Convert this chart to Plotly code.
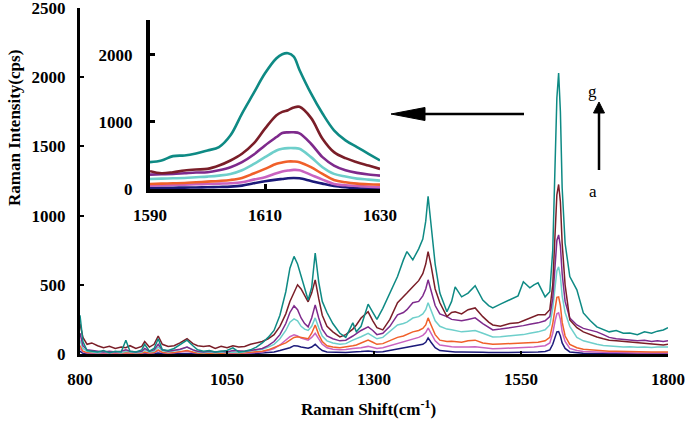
import plotly.graph_objects as go

# ---------------- data ----------------
shift = [800, 805, 812, 820, 830, 840, 850, 860, 870, 878,
         885, 895, 905, 910, 918, 926, 933, 940, 950, 960,
         970, 982, 992, 1000, 1010, 1020, 1030, 1040, 1050, 1060,
         1070, 1080, 1090, 1100, 1110, 1120, 1130, 1140, 1150, 1157,
         1164, 1170, 1176, 1182, 1188, 1194, 1200, 1206, 1212, 1220,
         1230, 1242, 1252, 1264, 1270, 1278, 1290, 1298, 1305, 1315,
         1327, 1340, 1350, 1356, 1366, 1376, 1383, 1388, 1392, 1397,
         1404, 1412, 1424, 1432, 1438, 1449, 1460, 1472, 1485, 1495,
         1502, 1515, 1531, 1545, 1554, 1565, 1572, 1579, 1591, 1599,
         1604, 1608, 1611, 1614, 1617, 1620, 1625, 1633, 1645, 1656,
         1668, 1679, 1690, 1700, 1712, 1724, 1735, 1748, 1760, 1772,
         1782, 1792, 1800]

spec_g = [280, 90, 25, 20, 15, 25, 10, 20, 15, 100,
          20, 15, 30, 70, 20, 40, 110, 30, 25, 40,
          70, 100, 60, 30, 20, 25, 15, 20, 25, 45,
          15, 20, 30, 50, 80, 120, 170, 280, 450, 620,
          705, 650, 560, 470, 390, 480, 730, 520, 380, 300,
          220, 150, 120, 225, 160, 200, 360, 300, 250, 330,
          440, 560, 680, 740, 680, 760, 830, 960, 1140, 950,
          650, 440, 305, 380, 485, 413, 440, 493, 390, 350,
          333, 360, 390, 420, 522, 478, 500, 514, 413, 450,
          750, 1300, 1850, 2030, 1750, 1200, 800, 560, 464, 297,
          240, 196, 180, 160, 170, 150, 152, 140, 160, 150,
          165, 174, 190]

spec_f = [220, 120, 70, 80, 60, 45, 55, 40, 50, 45,
          60, 40, 55, 90, 50, 70, 130, 70, 55, 60,
          80, 110, 75, 60, 55, 60, 40, 55, 45, 60,
          50, 55, 70, 80, 90, 110, 140, 200, 290, 380,
          440, 500, 470, 420, 377, 440, 536, 400, 280, 200,
          160, 123, 140, 180, 210, 260, 305, 240, 190, 174,
          250, 370, 410, 440, 486, 530, 580, 650, 740, 640,
          470, 370, 270, 300, 305, 290, 320, 333, 270, 230,
          210, 200, 220, 225, 240, 260, 270, 283, 283, 320,
          500, 850, 1150, 1225, 1100, 800, 500, 246, 190, 160,
          140, 123, 110, 100, 95, 90, 87, 80, 75, 70,
          68, 65, 70]

spec_e = [150, 60, 30, 25, 20, 15, 20, 15, 20, 30,
          20, 15, 20, 40, 20, 30, 70, 30, 20, 25,
          35, 50, 30, 20, 15, 20, 15, 20, 15, 25,
          20, 20, 25, 30, 40, 60, 90, 140, 220, 300,
          348, 320, 260, 220, 196, 260, 355, 260, 180, 130,
          110, 95, 100, 130, 150, 170, 196, 170, 140, 150,
          200, 283, 300, 320, 370, 380, 420, 470, 536, 460,
          350, 290, 270, 250, 246, 240, 250, 261, 220, 190,
          174, 180, 190, 196, 205, 215, 220, 225, 240, 270,
          400, 620, 820, 860, 780, 580, 380, 260, 210, 185,
          170, 160, 140, 120, 110, 105, 101, 95, 100, 90,
          95, 90, 95]

spec_d = [100, 40, 20, 15, 10, 15, 10, 15, 10, 20,
          15, 10, 15, 30, 15, 20, 50, 25, 15, 20,
          30, 50, 30, 15, 10, 15, 10, 15, 10, 15,
          10, 15, 20, 25, 35, 50, 70, 110, 170, 230,
          254, 240, 200, 180, 170, 200, 261, 190, 130, 95,
          80, 70, 75, 100, 110, 125, 150, 130, 110, 120,
          160, 210, 220, 230, 260, 270, 290, 320, 370, 320,
          240, 200, 180, 175, 170, 160, 165, 170, 150, 135,
          123, 125, 130, 135, 140, 150, 155, 160, 175, 210,
          330, 480, 600, 630, 560, 420, 300, 200, 120, 95,
          80, 70, 62, 58, 55, 50, 52, 48, 50, 47,
          50, 48, 50]

spec_c = [60, 20, 10, 10, 5, 10, 5, 10, 5, 10,
          8, 5, 8, 15, 8, 10, 30, 12, 8, 10,
          15, 25, 15, 8, 5, 8, 5, 8, 5, 10,
          5, 8, 10, 15, 20, 30, 45, 60, 80, 100,
          120, 125, 120, 115, 110, 150, 210, 140, 90, 60,
          50, 45, 50, 60, 65, 80, 100, 85, 70, 75,
          95, 120, 130, 140, 160, 170, 185, 210, 261, 210,
          140, 100, 90, 92, 90, 85, 95, 100, 80, 72,
          70, 72, 75, 78, 80, 80, 82, 85, 95, 120,
          220, 340, 410, 413, 350, 230, 130, 70, 45, 35,
          30, 25, 22, 20, 20, 18, 20, 16, 15, 15,
          14, 15, 15]

spec_b = [40, 15, 8, 5, 5, 5, 3, 5, 3, 8,
          5, 3, 5, 10, 5, 8, 25, 10, 5, 8,
          12, 20, 10, 5, 3, 5, 3, 5, 3, 5,
          3, 5, 8, 10, 15, 25, 40, 65, 100, 125,
          138, 130, 115, 105, 100, 120, 150, 110, 70, 45,
          35, 30, 32, 40, 42, 45, 55, 48, 40, 45,
          60, 80, 90, 95, 110, 120, 135, 155, 188, 150,
          95, 65, 55, 52, 50, 48, 50, 52, 45, 40,
          38, 40, 42, 45, 48, 50, 50, 55, 60, 80,
          150, 240, 290, 297, 250, 160, 90, 40, 25, 18,
          15, 12, 10, 10, 10, 8, 10, 8, 8, 7,
          8, 7, 8]

spec_a = [20, 5, 2, 2, 1, 2, 1, 2, 1, 3,
          2, 1, 2, 4, 2, 3, 8, 3, 2, 3,
          4, 6, 3, 2, 1, 2, 1, 2, 1, 2,
          1, 2, 3, 4, 6, 10, 15, 25, 35, 45,
          60, 58, 50, 45, 42, 50, 70, 45, 25, 15,
          12, 10, 10, 15, 15, 18, 22, 18, 15, 16,
          25, 35, 40, 45, 55, 60, 70, 85, 116, 85,
          45, 25, 18, 16, 15, 14, 15, 16, 12, 10,
          10, 10, 11, 12, 12, 13, 13, 14, 18, 30,
          70, 130, 160, 162, 130, 80, 40, 15, 8, 5,
          4, 3, 3, 2, 2, 2, 2, 2, 2, 2,
          2, 2, 2]

# inset (1590-1630 cm-1)
ins_shift = [1590, 1592, 1594, 1596, 1598, 1600, 1602, 1604, 1606, 1608,
             1610, 1612, 1613, 1614, 1615, 1616, 1618, 1620, 1622, 1624,
             1626, 1628, 1630]
ins_g = [400, 425, 490, 500, 530, 575, 625, 800, 1125, 1425,
         1725, 1950, 2010, 2025, 1975, 1775, 1425, 1125, 875, 725,
         625, 525, 425]
ins_f = [265, 235, 250, 275, 290, 300, 350, 425, 525, 675,
         900, 1100, 1150, 1175, 1215, 1225, 1060, 750, 550, 460,
         400, 350, 300]
ins_e = [215, 220, 225, 235, 245, 250, 280, 325, 400, 510,
         650, 775, 835, 845, 845, 830, 675, 475, 350, 280,
         240, 215, 200]
ins_d = [150, 155, 160, 165, 175, 185, 200, 225, 280, 370,
         475, 575, 600, 610, 610, 600, 475, 325, 225, 185,
         155, 140, 125]
ins_c = [75, 80, 85, 90, 100, 110, 120, 135, 165, 230,
         300, 375, 395, 410, 410, 400, 325, 225, 135, 100,
         80, 70, 65]
ins_b = [50, 55, 60, 65, 70, 75, 80, 85, 100, 140,
         175, 235, 260, 275, 285, 280, 210, 140, 75, 55,
         45, 35, 25]
ins_a = [15, 17, 19, 21, 23, 25, 30, 35, 50, 85,
         115, 140, 150, 160, 165, 160, 120, 80, 45, 25,
         12, 5, 0]

series_names = ["a", "b", "c", "d", "e", "f", "g"]
colors = ["#1C1A7A", "#C962C0", "#F0602A", "#6ECFCB", "#7E2A8C", "#7A1E28", "#0E8A84"]
main_data = [spec_a, spec_b, spec_c, spec_d, spec_e, spec_f, spec_g]
inset_data = [ins_a, ins_b, ins_c, ins_d, ins_e, ins_f, ins_g]

main_xticks = [800, 1050, 1300, 1550, 1800]
main_yticks = [0, 500, 1000, 1500, 2000, 2500]
inset_xticks = [1590, 1610, 1630]
inset_yticks = [0, 1000, 2000]

# ---------------- figure ----------------
FONT = "Liberation Serif, Times New Roman, serif"
W, H = 685, 421
L, R, T, B = 80, 17, 8, 67
PW, PH = W - L - R, H - T - B


def px(xp):
    return (xp - L) / PW


def py(yp):
    return (H - B - yp) / PH


fig = go.Figure()

for name, col, ys in zip(series_names, colors, main_data):
    fig.add_trace(go.Scatter(x=shift, y=ys, mode="lines", name=name,
                             line=dict(color=col, width=1.5),
                             xaxis="x", yaxis="y", showlegend=False))

for name, col, ys in zip(series_names, colors, inset_data):
    fig.add_trace(go.Scatter(x=ins_shift, y=ys, mode="lines", name=name,
                             line=dict(color=col, width=2.6, shape="spline"),
                             xaxis="x2", yaxis="y2", showlegend=False))

tickfont = dict(family=FONT, size=17, color="black", weight="bold")
common = dict(showgrid=False, zeroline=False, tickfont=tickfont, automargin=False,
              linecolor="black", tickcolor="black", ticks="inside")

fig.update_layout(
    template="simple_white",
    width=W, height=H,
    margin=dict(l=L, r=R, t=T, b=B, pad=0, autoexpand=False),
    paper_bgcolor="white", plot_bgcolor="rgba(0,0,0,0)",
    hovermode=False,
    xaxis=dict(domain=[0, 1], range=[800, 1800], tickvals=main_xticks,
               showline=True, linewidth=3, ticklen=3, tickwidth=2,
               ticklabelstandoff=8, ticklabeloverflow="allow", **common),
    yaxis=dict(domain=[0, 1], range=[0, 2500], tickvals=main_yticks,
               showline=True, linewidth=3, ticklen=4, tickwidth=2,
               ticklabelstandoff=8, ticklabeloverflow="allow", **common),
    xaxis2=dict(domain=[px(150), px(380)], range=[1590, 1630], tickvals=inset_xticks,
                anchor="y2", showline=True, linewidth=4, ticklen=5, tickwidth=3,
                ticklabelstandoff=8, **common),
    yaxis2=dict(domain=[py(189), py(20)], range=[0, 2520], tickvals=inset_yticks,
                anchor="x2", showline=True, linewidth=4, ticklen=5, tickwidth=3,
                ticklabelstandoff=10, **common),
)

annos = [
    dict(text="Raman Shift(cm<sup>-1</sup>)", x=px(368), y=py(408),
         xref="paper", yref="paper", showarrow=False, xanchor="center", yanchor="middle",
         font=dict(family=FONT, size=17, color="black", weight="bold")),
    dict(text="Raman Intensity(cps)", x=px(14), y=py(128),
         xref="paper", yref="paper", showarrow=False, textangle=-90,
         xanchor="center", yanchor="middle",
         font=dict(family=FONT, size=17, color="black", weight="bold")),
    dict(text="g", x=px(599), y=py(80), xref="paper", yref="paper",
         showarrow=False, font=dict(family=FONT, size=17, color="black")),
    dict(text="a", x=px(599), y=py(191), xref="paper", yref="paper",
         showarrow=False, font=dict(family=FONT, size=17, color="black")),
]

shapes = [
    # horizontal arrow pointing to the inset
    dict(type="line", xref="paper", yref="paper", x0=px(422), y0=py(114), x1=px(524), y1=py(114),
         line=dict(color="black", width=2.5), opacity=1, layer="above"),
    dict(type="path", xref="paper", yref="paper",
         path=f"M {px(391)} {py(114)} L {px(425)} {py(107.5)} L {px(425)} {py(120.5)} Z",
         fillcolor="black", line=dict(color="black", width=1), opacity=1, layer="above"),
    # vertical arrow a -> g
    dict(type="line", xref="paper", yref="paper", x0=px(599), y0=py(111), x1=px(599), y1=py(170),
         line=dict(color="black", width=2.5), opacity=1, layer="above"),
    dict(type="path", xref="paper", yref="paper",
         path=f"M {px(599)} {py(102)} L {px(593.5)} {py(113)} L {px(604.5)} {py(113)} Z",
         fillcolor="black", line=dict(color="black", width=1), opacity=1, layer="above"),
]
fig.update_layout(annotations=annos, shapes=shapes)

fig.write_html("out.html", config={"displayModeBar": False},
               post_script="document.body.style.margin='0px';")
